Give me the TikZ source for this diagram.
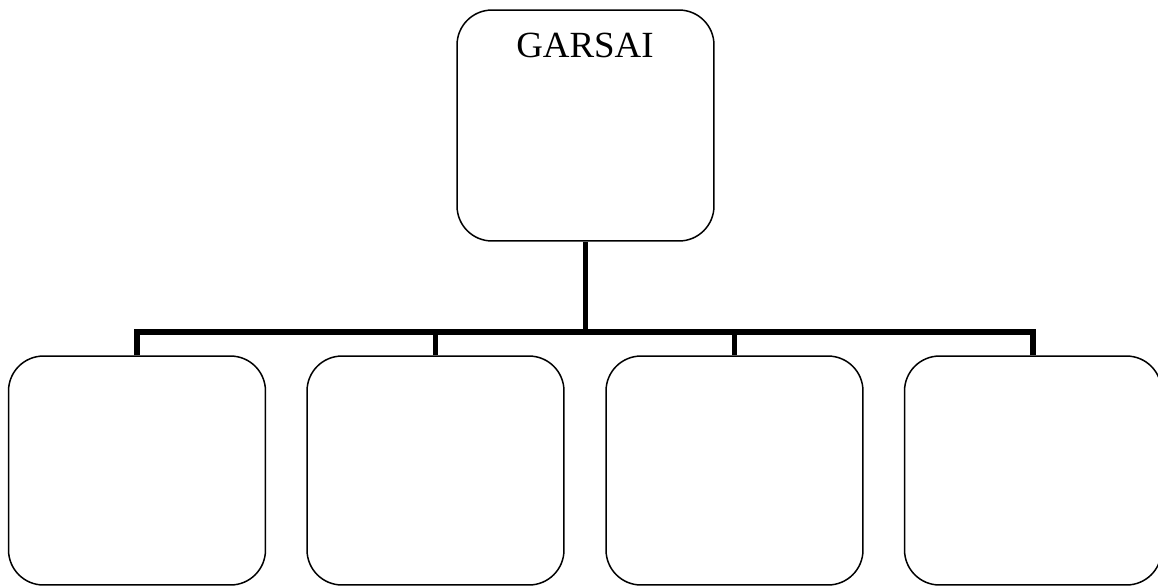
\documentclass[tikz,border=0pt]{standalone}
\usepackage{fontspec}
\setmainfont{Liberation Serif}
\usepackage{tikz}
\usetikzlibrary{positioning}

\begin{document}
\begin{tikzpicture}[x=0.02cm,y=-0.02cm]
					\tikzstyle{box}=[rectangle,rounded corners=0.7cm,draw=black,line width=0.85pt,minimum width=5.14cm,inner sep=0pt]
					\tikzstyle{bus}=[line width=3.2pt,line join=miter]
					\useasboundingbox (0,0) rectangle (1158,586);
					\node[box,minimum height=4.62cm] (top) at (585.5,125.5) {};
					\node[anchor=base,font=\fontsize{21}{25}\selectfont] (title) at (585,57) {GARSAI};
					\node[box,minimum height=4.58cm] (b1) at (137,470.5) {};
					\node[box,minimum height=4.58cm] (b2) at (435.5,470.5) {};
					\node[box,minimum height=4.58cm] (b3) at (734.5,470.5) {};
					\node[box,minimum height=4.58cm] (b4) at (1033,470.5) {};
					\coordinate (j) at (585.5,332);
					\draw[bus] (top.south) -- (j);
					\draw[bus] (b1.north) |- (j);
					\draw[bus] (b2.north) |- (j);
					\draw[bus] (b3.north) |- (j);
					\draw[bus] (b4.north) |- (j);
\end{tikzpicture}
\end{document}
